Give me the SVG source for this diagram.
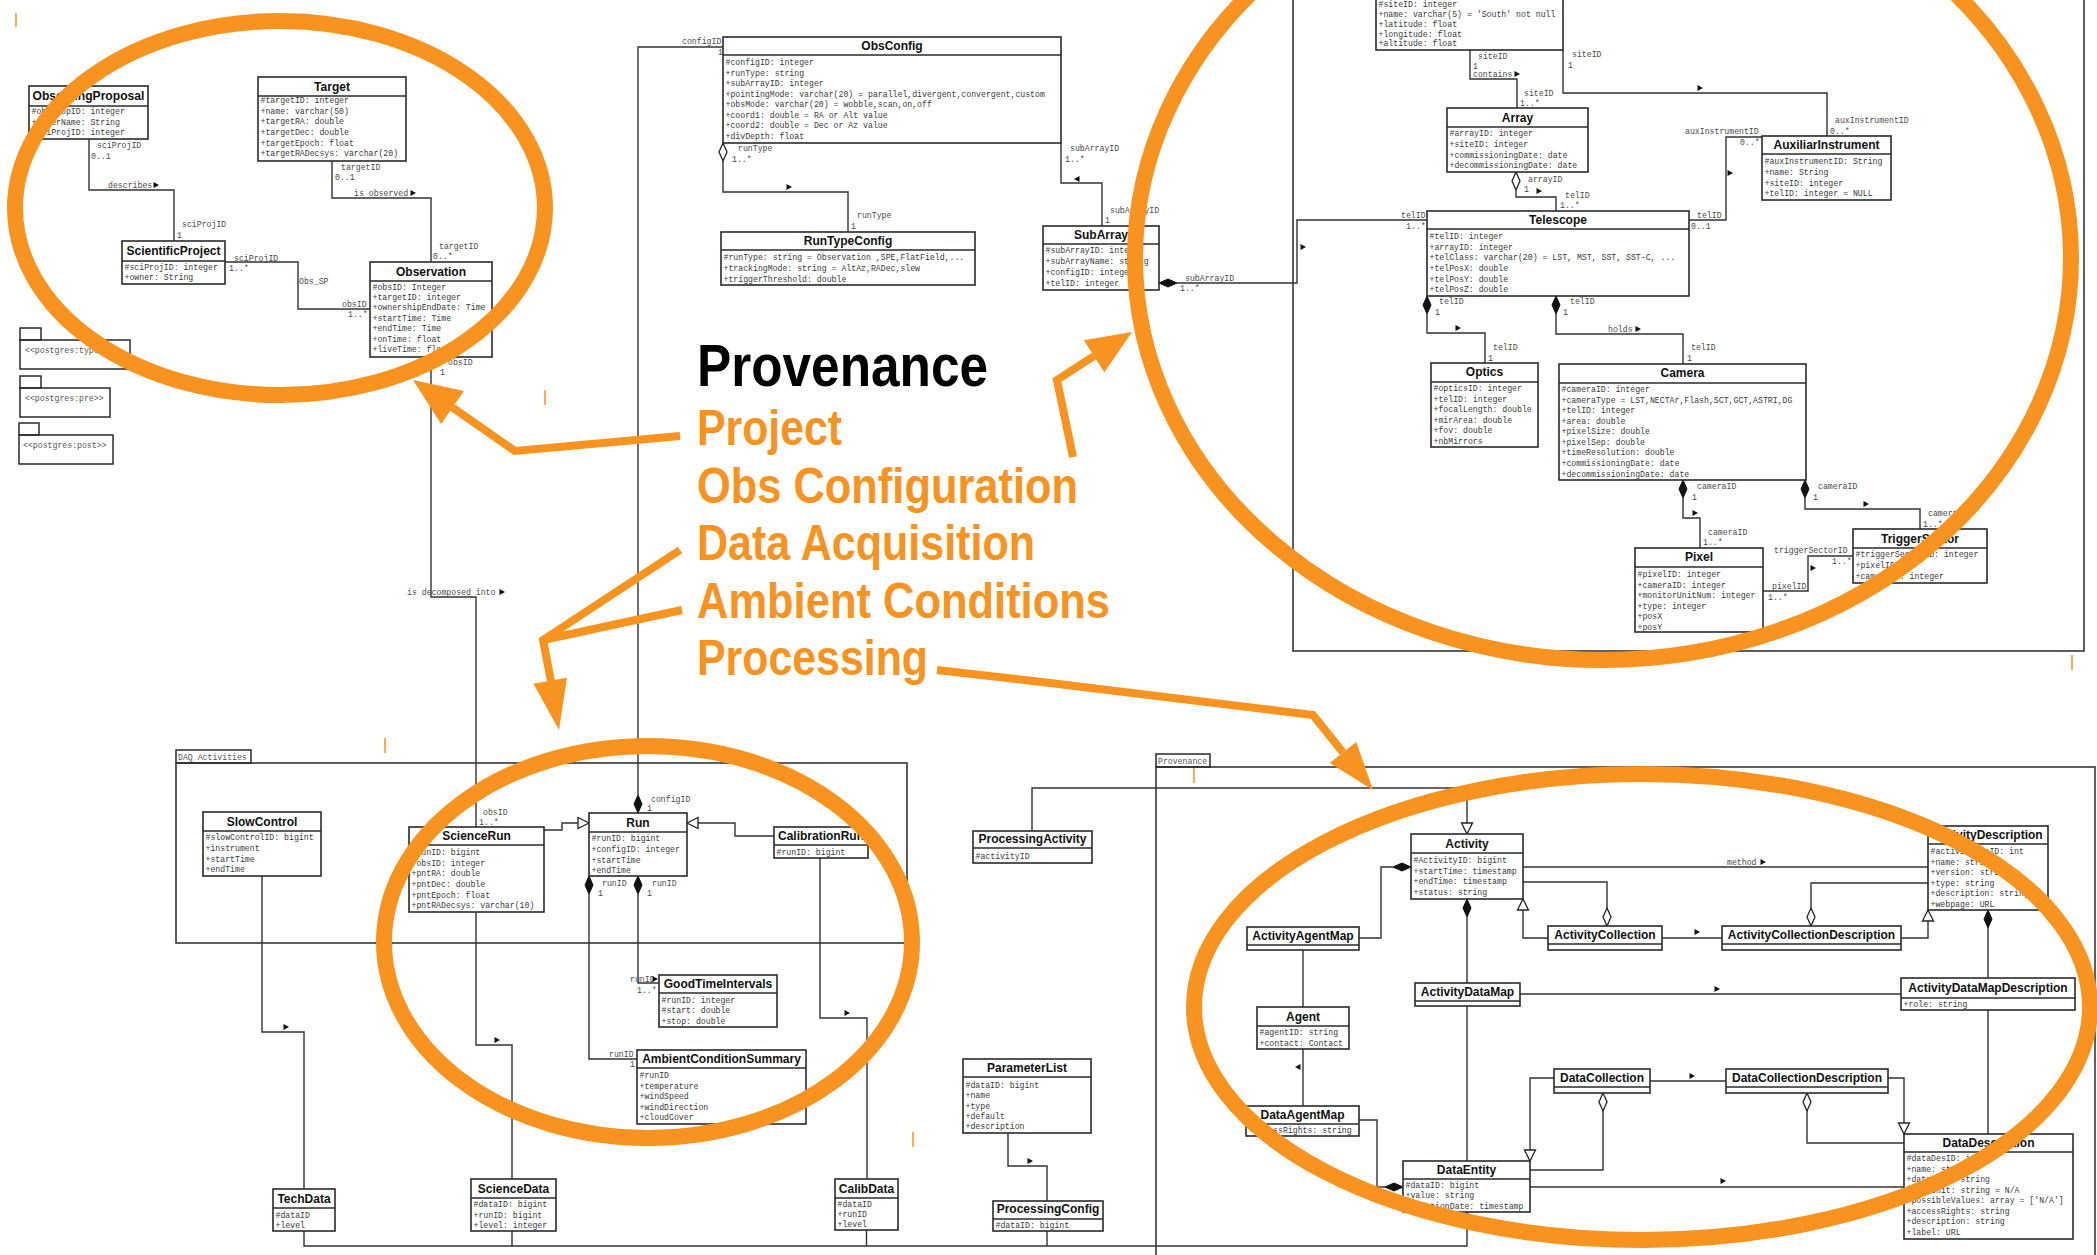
<svg xmlns="http://www.w3.org/2000/svg" width="2097" height="1255" viewBox="0 0 2097 1255">
<style>
.b{fill:#fff;stroke:#2a2a2a;stroke-width:1.6}
.h{stroke:#2a2a2a;stroke-width:1.4}
.f{fill:none;stroke:#2a2a2a;stroke-width:1.5}
.t{font-family:"Liberation Sans",Arial,sans-serif;font-weight:bold;font-size:12px;fill:#111;text-anchor:middle}
.a{font-family:"Liberation Mono","DejaVu Sans Mono",monospace;font-size:8.2px;fill:#3a3a3a}
.l{font-family:"Liberation Mono","DejaVu Sans Mono",monospace;font-size:8.2px;fill:#4a4a4a}
.p{font-family:"Liberation Mono","DejaVu Sans Mono",monospace;font-size:8.2px;fill:#555}
.c{fill:none;stroke:#333;stroke-width:1.4}
.fd{fill:#111;stroke:#111;stroke-width:1}
.hd{fill:#fff;stroke:#222;stroke-width:1.3}
.o{fill:none;stroke:#F7931E;stroke-width:16}
.oa{fill:none;stroke:#F7931E;stroke-width:8;stroke-linejoin:miter}
.oh{fill:#F7931E}
.ot{font-family:"Liberation Sans",Arial,sans-serif;font-weight:bold;font-size:50px;fill:#F7931E}
.tk{stroke:#F7931E;stroke-width:1.5}
</style>
<defs>
<path id="ar" d="M-2.5,-3 L3,0 L-2.5,3Z" fill="#111"/>
<path id="al" d="M2.5,-3 L-3,0 L2.5,3Z" fill="#111"/>
<path id="dv" d="M0,0 L4,9 L0,18 L-4,9Z"/>
<path id="dh" d="M0,0 L9,-4 L18,0 L9,4Z"/>
<path id="gu" d="M0,0 L5.5,11 L-5.5,11Z"/>
<path id="gd" d="M0,0 L5.5,-11 L-5.5,-11Z"/>
<path id="gl" d="M0,0 L11,-5.5 L11,5.5Z"/>
<path id="gr" d="M0,0 L-11,-5.5 L-11,5.5Z"/>
</defs>
<rect width="2097" height="1255" fill="#fff"/>

<g id="frames">
<rect class="f" x="1293" y="-10" width="791" height="661"/>
<rect class="f" x="176" y="750" width="75" height="13"/>
<text class="p" x="178" y="759.5">DAQ Activities</text>
<rect class="f" x="176" y="763" width="731" height="180"/>
<rect class="f" x="1156" y="754" width="54" height="13"/>
<text class="p" x="1158" y="763.5">Provenance</text>
<rect class="f" x="1156" y="767" width="939" height="500"/>
<g id="pkg_types"><rect class="f" x="20" y="328" width="21" height="12"/><rect class="f" x="20" y="340" width="110" height="29"/><text class="p" x="25" y="353">&lt;&lt;postgres:types&gt;&gt;</text></g>
<g id="pkg_pre"><rect class="f" x="20" y="376" width="21" height="12"/><rect class="f" x="20" y="388" width="90" height="29"/><text class="p" x="25" y="401">&lt;&lt;postgres:pre&gt;&gt;</text></g>
<g id="pkg_post"><rect class="f" x="19" y="423" width="20" height="12"/><rect class="f" x="19" y="435" width="94" height="29"/><text class="p" x="23" y="448">&lt;&lt;postgres:post&gt;&gt;</text></g>
</g>

<g id="connectors">
<path class="c" d="M89,139 V190 H174 V241"/>
<text class="l" x="97" y="148">sciProjID</text><text class="l" x="91" y="159">0..1</text><text class="l" x="108" y="188">describes</text><use href="#ar" x="156" y="185"/><text class="l" x="182" y="227">sciProjID</text><text class="l" x="177" y="238">1</text>

<path class="c" d="M332,161 V198 H431 V262"/>
<text class="l" x="341" y="170">targetID</text><text class="l" x="335" y="180">0..1</text><text class="l" x="354" y="196">is observed</text><use href="#ar" x="413" y="193"/><text class="l" x="439" y="249">targetID</text><text class="l" x="433" y="259">0..*</text>

<path class="c" d="M225,262 H298 V309 H370"/>
<text class="l" x="234" y="261">sciProjID</text><text class="l" x="229" y="271">1..*</text><text class="l" x="299" y="284">Obs_SP</text><text class="l" x="342" y="307">obsID</text><text class="l" x="348" y="317">1..*</text>

<path class="c" d="M431,357 V597 H476 V827"/>
<text class="l" x="448" y="365">obsID</text><text class="l" x="440" y="375">1</text><text class="l" x="407" y="595">is decomposed into</text><use href="#ar" x="502" y="592"/><text class="l" x="483" y="815">obsID</text><text class="l" x="479" y="825">1..*</text>

<path class="c" d="M723,47 H638 V795"/>
<use href="#dv" class="fd" x="638" y="795"/>
<text class="l" x="682" y="44">configID</text><text class="l" x="718" y="55">1</text><text class="l" x="651" y="802">configID</text><text class="l" x="647" y="811">1</text>

<use href="#dv" class="hd" x="723" y="143"/>
<path class="c" d="M723,161 V192 H848 V232"/>
<text class="l" x="738" y="151">runType</text><text class="l" x="732" y="162">1..*</text><use href="#ar" x="789" y="187"/><text class="l" x="857" y="218">runType</text><text class="l" x="851" y="229">1</text>

<path class="c" d="M1061,143 V183 H1102 V226"/>
<text class="l" x="1070" y="151">subArrayID</text><text class="l" x="1065" y="162">1..*</text><use href="#al" x="1077" y="179"/><text class="l" x="1110" y="213">subArrayID</text><text class="l" x="1105" y="223">1</text>

<use href="#dh" class="fd" x="1159" y="283"/>
<path class="c" d="M1177,283 H1297 V220 H1427"/>
<text class="l" x="1185" y="281">subArrayID</text><text class="l" x="1180" y="291">1..*</text><use href="#ar" x="1303" y="247"/><text class="l" x="1401" y="218">telID</text><text class="l" x="1406" y="229">1..*</text>

<path class="c" d="M1470,50 V79 H1517 V108"/>
<text class="l" x="1478" y="59">siteID</text><text class="l" x="1473" y="69">1</text><text class="l" x="1473" y="77">contains</text><use href="#ar" x="1517" y="74"/><text class="l" x="1524" y="96">siteID</text><text class="l" x="1520" y="106">1..*</text>

<path class="c" d="M1563,50 V93 H1827 V136"/>
<text class="l" x="1572" y="57">siteID</text><text class="l" x="1568" y="68">1</text><use href="#ar" x="1700" y="88"/><text class="l" x="1835" y="123">auxInstrumentID</text><text class="l" x="1830" y="134">0..*</text>

<use href="#dv" class="hd" x="1516" y="172"/>
<path class="c" d="M1516,190 V197 H1556 V211"/>
<text class="l" x="1528" y="182">arrayID</text><text class="l" x="1524" y="192">1</text><use href="#ar" x="1539" y="191"/><text class="l" x="1565" y="198">telID</text><text class="l" x="1560" y="208">1..*</text>

<path class="c" d="M1689,220 H1726 V137 H1762"/>
<text class="l" x="1697" y="218">telID</text><text class="l" x="1691" y="229">0..1</text><text class="l" x="1685" y="134">auxInstrumentID</text><text class="l" x="1740" y="145">0..*</text><use href="#ar" x="1730" y="173"/>

<use href="#dv" class="fd" x="1427" y="296"/>
<path class="c" d="M1427,314 V333 H1485 V363"/>
<text class="l" x="1439" y="304">telID</text><text class="l" x="1435" y="315">1</text><use href="#ar" x="1458" y="328"/><text class="l" x="1493" y="350">telID</text><text class="l" x="1488" y="361">1</text>

<use href="#dv" class="fd" x="1556" y="296"/>
<path class="c" d="M1556,314 V334 H1683 V364"/>
<text class="l" x="1570" y="304">telID</text><text class="l" x="1563" y="315">1</text><text class="l" x="1608" y="332">holds</text><use href="#ar" x="1638" y="329"/><text class="l" x="1691" y="350">telID</text><text class="l" x="1687" y="361">1</text>

<use href="#dv" class="fd" x="1683" y="480"/>
<path class="c" d="M1683,498 V518 H1700 V548"/>
<text class="l" x="1697" y="489">cameraID</text><text class="l" x="1692" y="500">1</text><use href="#ar" x="1695" y="513"/><text class="l" x="1708" y="535">cameraID</text><text class="l" x="1703" y="545">1..*</text>

<use href="#dv" class="fd" x="1805" y="480"/>
<path class="c" d="M1805,498 V509 H1920 V529"/>
<text class="l" x="1818" y="489">cameraID</text><text class="l" x="1813" y="500">1</text><use href="#ar" x="1866" y="504"/><text class="l" x="1928" y="516">cameraID</text><text class="l" x="1923" y="527">1..*</text>

<path class="c" d="M1763,591 H1808 V556 H1853"/>
<text class="l" x="1772" y="589">pixelID</text><text class="l" x="1768" y="600">1..*</text><use href="#ar" x="1813" y="568"/><text class="l" x="1774" y="553">triggerSectorID</text><text class="l" x="1832" y="564">1..*</text>

<path class="c" d="M262,876 V1032 H304 V1189"/><use href="#ar" x="286" y="1027"/>
<path class="c" d="M476,912 V1045 H512 V1179"/><use href="#ar" x="497" y="1040"/>
<path class="c" d="M544,830 H562 V823 H578"/><use href="#gr" class="hd" x="589" y="823"/>
<path class="c" d="M774,836 H735 V823 H698"/><use href="#gl" class="hd" x="687" y="823"/>
<path class="c" d="M820,858 V1018 H867 V1179"/><use href="#ar" x="847" y="1013"/>

<use href="#dv" class="fd" x="638" y="876"/>
<path class="c" d="M638,894 V983 H659"/>
<text class="l" x="652" y="886">runID</text><text class="l" x="647" y="896">1</text><text class="l" x="630" y="982">runID</text><use href="#ar" x="655" y="979"/><text class="l" x="637" y="993">1..*</text>

<use href="#dv" class="fd" x="589" y="876"/>
<path class="c" d="M589,894 V1059 H637"/>
<text class="l" x="602" y="886">runID</text><text class="l" x="598" y="896">1</text><text class="l" x="609" y="1057">runID</text><text class="l" x="630" y="1067">1</text>

<path class="c" d="M1032,831 V788 H1467 V823"/><use href="#gd" class="hd" x="1467" y="834"/>
<path class="c" d="M1008,1133 V1166 H1047 V1201"/><use href="#ar" x="1030" y="1161"/>
<path class="c" d="M304,1231 V1246 H1467 V1223 M512,1231 V1246 M866.5,1230 V1246 M1047,1231 V1246"/>
<use href="#gu" class="hd" x="1467" y="1212"/>

<path class="c" d="M1359,938 H1381 V867 H1393"/><use href="#dh" class="fd" x="1393" y="867"/>
<path class="c" d="M1303,950 V1007"/>
<path class="c" d="M1303,1049 V1106"/><use href="#al" x="1298" y="1067"/>
<path class="c" d="M1359,1120 H1377 V1187 H1385"/><use href="#dh" class="fd" x="1385" y="1187"/>
<use href="#dv" class="fd" x="1467" y="899"/>
<path class="c" d="M1467,917 V983"/>
<path class="c" d="M1467,1006 V1161"/>
<path class="c" d="M1520,994 H1901"/><use href="#ar" x="1717" y="989"/>
<path class="c" d="M1523,867 H1928"/><text class="l" x="1727" y="865">method</text><use href="#ar" x="1763" y="862"/>
<path class="c" d="M1523,882 H1607 V908"/><use href="#dv" class="hd" x="1607" y="908"/>
<use href="#gu" class="hd" x="1523" y="899"/>
<path class="c" d="M1523,910 V938 H1548"/>
<path class="c" d="M1662,938 H1722"/><use href="#ar" x="1697" y="932"/>
<path class="c" d="M1901,938 H1928 V921"/><use href="#gu" class="hd" x="1928" y="910"/>
<path class="c" d="M1928,883 H1811 V908"/><use href="#dv" class="hd" x="1811" y="908"/>
<use href="#dv" class="fd" x="1988" y="910"/>
<path class="c" d="M1988,928 V978"/>
<path class="c" d="M1988,1010 V1134"/>
<path class="c" d="M1554,1078 H1530 V1150"/><use href="#gd" class="hd" x="1530" y="1161"/>
<path class="c" d="M1650,1081 H1726"/><use href="#ar" x="1692" y="1076"/>
<path class="c" d="M1888,1078 H1904 V1123"/><use href="#gd" class="hd" x="1904" y="1134"/>
<use href="#dv" class="hd" x="1603" y="1093"/>
<path class="c" d="M1603,1111 V1170 H1530"/>
<use href="#dv" class="hd" x="1807" y="1093"/>
<path class="c" d="M1807,1111 V1143 H1904"/>
<path class="c" d="M1530,1187 H1904"/><use href="#ar" x="1723" y="1181"/>
</g>

<g id="ObservingProposal"><rect class="b" x="29" y="86" width="119" height="53"/><line class="h" x1="29" y1="106" x2="148" y2="106"/><text class="t" x="88.5" y="100.3" textLength="112" lengthAdjust="spacingAndGlyphs">ObservingProposal</text><text class="a" x="31.5" y="114">#obsPropID: integer</text><text class="a" x="31.5" y="124.5">+ownerName: String</text><text class="a" x="31.5" y="135">+sciProjID: integer</text></g>

<g id="Target"><rect class="b" x="258" y="77" width="148" height="84"/><line class="h" x1="258" y1="96" x2="406" y2="96"/><text class="t" x="332" y="90.8">Target</text><text class="a" x="260.5" y="103">#targetID: integer</text><text class="a" x="260.5" y="114">+name: varchar(50)</text><text class="a" x="260.5" y="124">+targetRA: double</text><text class="a" x="260.5" y="135">+targetDec: double</text><text class="a" x="260.5" y="146">+targetEpoch: float</text><text class="a" x="260.5" y="156">+targetRADecsys: varchar(20)</text></g>

<g id="ScientificProject"><rect class="b" x="122" y="241" width="103" height="43"/><line class="h" x1="122" y1="261" x2="225" y2="261"/><text class="t" x="173.5" y="255.3">ScientificProject</text><text class="a" x="124.5" y="270">#sciProjID: integer</text><text class="a" x="124.5" y="280">+owner: String</text></g>

<g id="Observation"><rect class="b" x="370" y="262" width="122" height="95"/><line class="h" x1="370" y1="281" x2="492" y2="281"/><text class="t" x="431" y="275.8">Observation</text><text class="a" x="372.5" y="290">#obsID: Integer</text><text class="a" x="372.5" y="300">+targetID: integer</text><text class="a" x="372.5" y="310">+ownershipEndDate: Time</text><text class="a" x="372.5" y="321">+startTime: Time</text><text class="a" x="372.5" y="331">+endTime: Time</text><text class="a" x="372.5" y="342">+onTime: float</text><text class="a" x="372.5" y="352">+liveTime: float</text></g>

<g id="ObsConfig"><rect class="b" x="723" y="37" width="338" height="106"/><line class="h" x1="723" y1="55" x2="1061" y2="55"/><text class="t" x="892" y="50.3">ObsConfig</text><text class="a" x="725.5" y="65">#configID: integer</text><text class="a" x="725.5" y="76">+runType: string</text><text class="a" x="725.5" y="86">+subArrayID: integer</text><text class="a" x="725.5" y="97">+pointingMode: varchar(20) = parallel,divergent,convergent,custom</text><text class="a" x="725.5" y="107">+obsMode: varchar(20) = wobble,scan,on,off</text><text class="a" x="725.5" y="118">+coord1: double = RA or Alt value</text><text class="a" x="725.5" y="128">+coord2: double = Dec or Az value</text><text class="a" x="725.5" y="139">+divDepth: float</text></g>

<g id="RunTypeConfig"><rect class="b" x="721" y="232" width="254" height="53"/><line class="h" x1="721" y1="250" x2="975" y2="250"/><text class="t" x="848" y="245.3">RunTypeConfig</text><text class="a" x="723.5" y="260">#runType: string = Observation ,SPE,FlatField,...</text><text class="a" x="723.5" y="271">+trackingMode: string = AltAz,RADec,slew</text><text class="a" x="723.5" y="282">+triggerThreshold: double</text></g>

<g id="SubArray"><rect class="b" x="1043" y="226" width="116" height="64"/><line class="h" x1="1043" y1="244" x2="1159" y2="244"/><text class="t" x="1101" y="239.3">SubArray</text><text class="a" x="1045.5" y="253">#subArrayID: integer</text><text class="a" x="1045.5" y="264">+subArrayName: string</text><text class="a" x="1045.5" y="275">+configID: integer</text><text class="a" x="1045.5" y="286">+telID: integer</text></g>

<g id="Site"><rect class="b" x="1376" y="-30" width="187" height="80"/><text class="a" x="1378.5" y="7">#siteID: integer</text><text class="a" x="1378.5" y="16.5">+name: varchar(5) = 'South' not null</text><text class="a" x="1378.5" y="26.5">+latitude: float</text><text class="a" x="1378.5" y="36.5">+longitude: float</text><text class="a" x="1378.5" y="46">+altitude: float</text></g>

<g id="Array"><rect class="b" x="1447" y="108" width="141" height="64"/><line class="h" x1="1447" y1="127" x2="1588" y2="127"/><text class="t" x="1517.5" y="121.8">Array</text><text class="a" x="1449.5" y="136">#arrayID: integer</text><text class="a" x="1449.5" y="147">+siteID: integer</text><text class="a" x="1449.5" y="158">+commissioningDate: date</text><text class="a" x="1449.5" y="168">+decommissioningDate: date</text></g>

<g id="AuxiliarInstrument"><rect class="b" x="1762" y="136" width="129" height="64"/><line class="h" x1="1762" y1="154" x2="1891" y2="154"/><text class="t" x="1826.5" y="149.3">AuxiliarInstrument</text><text class="a" x="1764.5" y="164">#auxInstrumentID: String</text><text class="a" x="1764.5" y="175">+name: String</text><text class="a" x="1764.5" y="186">+siteID: integer</text><text class="a" x="1764.5" y="196">+telID: integer = NULL</text></g>

<g id="Telescope"><rect class="b" x="1427" y="211" width="262" height="85"/><line class="h" x1="1427" y1="229" x2="1689" y2="229"/><text class="t" x="1558" y="224.3">Telescope</text><text class="a" x="1429.5" y="239">#telID: integer</text><text class="a" x="1429.5" y="250">+arrayID: integer</text><text class="a" x="1429.5" y="260">+telClass: varchar(20) = LST, MST, SST, SST-C, ...</text><text class="a" x="1429.5" y="271">+telPosX: double</text><text class="a" x="1429.5" y="282">+telPosY: double</text><text class="a" x="1429.5" y="292">+telPosZ: double</text></g>

<g id="Optics"><rect class="b" x="1431" y="363" width="107" height="84"/><line class="h" x1="1431" y1="382" x2="1538" y2="382"/><text class="t" x="1484.5" y="376.3">Optics</text><text class="a" x="1433.5" y="391">#opticsID: integer</text><text class="a" x="1433.5" y="402">+telID: integer</text><text class="a" x="1433.5" y="412">+focalLength: double</text><text class="a" x="1433.5" y="423">+mirArea: double</text><text class="a" x="1433.5" y="433">+fov: double</text><text class="a" x="1433.5" y="444">+nbMirrors</text></g>

<g id="Camera"><rect class="b" x="1559" y="364" width="247" height="116"/><line class="h" x1="1559" y1="383" x2="1806" y2="383"/><text class="t" x="1682.5" y="377.3">Camera</text><text class="a" x="1561.5" y="392">#cameraID: integer</text><text class="a" x="1561.5" y="403">+cameraType = LST,NECTAr,Flash,SCT,GCT,ASTRI,DG</text><text class="a" x="1561.5" y="413">+telID: integer</text><text class="a" x="1561.5" y="424">+area: double</text><text class="a" x="1561.5" y="434">+pixelSize: double</text><text class="a" x="1561.5" y="445">+pixelSep: double</text><text class="a" x="1561.5" y="455">+timeResolution: double</text><text class="a" x="1561.5" y="466">+commissioningDate: date</text><text class="a" x="1561.5" y="477">+decommissioningDate: date</text></g>

<g id="Pixel"><rect class="b" x="1635" y="548" width="128" height="84"/><line class="h" x1="1635" y1="567" x2="1763" y2="567"/><text class="t" x="1699" y="561.3">Pixel</text><text class="a" x="1637.5" y="577">#pixelID: integer</text><text class="a" x="1637.5" y="587.5">+cameraID: integer</text><text class="a" x="1637.5" y="598">+monitorUnitNum: integer</text><text class="a" x="1637.5" y="608.5">+type: integer</text><text class="a" x="1637.5" y="619">+posX</text><text class="a" x="1637.5" y="629.5">+posY</text></g>

<g id="TriggerSector"><rect class="b" x="1853" y="529" width="134" height="54"/><line class="h" x1="1853" y1="548" x2="1987" y2="548"/><text class="t" x="1920" y="542.8">TriggerSector</text><text class="a" x="1855.5" y="557">#triggerSectorID: integer</text><text class="a" x="1855.5" y="568">+pixelID</text><text class="a" x="1855.5" y="579">+cameraID: integer</text></g>

<g id="SlowControl"><rect class="b" x="203" y="812" width="118" height="64"/><line class="h" x1="203" y1="831" x2="321" y2="831"/><text class="t" x="262" y="825.8">SlowControl</text><text class="a" x="205.5" y="840">#slowControlID: bigint</text><text class="a" x="205.5" y="851">+instrument</text><text class="a" x="205.5" y="862">+startTime</text><text class="a" x="205.5" y="872">+endTime</text></g>

<g id="ScienceRun"><rect class="b" x="409" y="827" width="135" height="85"/><line class="h" x1="409" y1="845" x2="544" y2="845"/><text class="t" x="476.5" y="840.3">ScienceRun</text><text class="a" x="411.5" y="855">#runID: bigint</text><text class="a" x="411.5" y="866">+obsID: integer</text><text class="a" x="411.5" y="876">+pntRA: double</text><text class="a" x="411.5" y="887">+pntDec: double</text><text class="a" x="411.5" y="898">+pntEpoch: float</text><text class="a" x="411.5" y="908">+pntRADecsys: varchar(10)</text></g>

<g id="Run"><rect class="b" x="589" y="813" width="98" height="63"/><line class="h" x1="589" y1="832" x2="687" y2="832"/><text class="t" x="638" y="826.8">Run</text><text class="a" x="591.5" y="841">#runID: bigint</text><text class="a" x="591.5" y="852">+configID: integer</text><text class="a" x="591.5" y="863">+startTime</text><text class="a" x="591.5" y="873">+endTime</text></g>

<g id="CalibrationRun"><rect class="b" x="774" y="827" width="94" height="31"/><line class="h" x1="774" y1="845" x2="868" y2="845"/><text class="t" x="821" y="840.3">CalibrationRun</text><text class="a" x="776.5" y="855">#runID: bigint</text></g>

<g id="TechData"><rect class="b" x="273" y="1189" width="62" height="42"/><line class="h" x1="273" y1="1208" x2="335" y2="1208"/><text class="t" x="304" y="1202.8">TechData</text><text class="a" x="275.5" y="1218">#dataID</text><text class="a" x="275.5" y="1228">+level</text></g>

<g id="ScienceData"><rect class="b" x="471" y="1179" width="85" height="52"/><line class="h" x1="471" y1="1198" x2="556" y2="1198"/><text class="t" x="513.5" y="1192.8">ScienceData</text><text class="a" x="473.5" y="1207">#dataID: bigint</text><text class="a" x="473.5" y="1218">+runID: bigint</text><text class="a" x="473.5" y="1228">+level: integer</text></g>

<g id="CalibData"><rect class="b" x="835" y="1179" width="63" height="51"/><line class="h" x1="835" y1="1198" x2="898" y2="1198"/><text class="t" x="866.5" y="1192.8">CalibData</text><text class="a" x="837.5" y="1207">#dataID</text><text class="a" x="837.5" y="1217">+runID</text><text class="a" x="837.5" y="1227">+level</text></g>

<g id="GoodTimeIntervals"><rect class="b" x="659" y="975" width="118" height="52"/><line class="h" x1="659" y1="993" x2="777" y2="993"/><text class="t" x="718" y="988.3">GoodTimeIntervals</text><text class="a" x="661.5" y="1003">#runID: integer</text><text class="a" x="661.5" y="1013">#start: double</text><text class="a" x="661.5" y="1024">+stop: double</text></g>

<g id="AmbientConditionSummary"><rect class="b" x="637" y="1050" width="169" height="74"/><line class="h" x1="637" y1="1068" x2="806" y2="1068"/><text class="t" x="721.5" y="1063.3">AmbientConditionSummary</text><text class="a" x="639.5" y="1078">#runID</text><text class="a" x="639.5" y="1089">+temperature</text><text class="a" x="639.5" y="1099">+windSpeed</text><text class="a" x="639.5" y="1110">+windDirection</text><text class="a" x="639.5" y="1120">+cloudCover</text></g>

<g id="ProcessingActivity"><rect class="b" x="973" y="831" width="119" height="32"/><line class="h" x1="973" y1="848" x2="1092" y2="848"/><text class="t" x="1032.5" y="843.3">ProcessingActivity</text><text class="a" x="975.5" y="859">#activityID</text></g>

<g id="ParameterList"><rect class="b" x="963" y="1059" width="128" height="74"/><line class="h" x1="963" y1="1077" x2="1091" y2="1077"/><text class="t" x="1027" y="1072.3">ParameterList</text><text class="a" x="965.5" y="1088">#dataID: bigint</text><text class="a" x="965.5" y="1098">+name</text><text class="a" x="965.5" y="1109">+type</text><text class="a" x="965.5" y="1119">+default</text><text class="a" x="965.5" y="1129">+description</text></g>

<g id="ProcessingConfig"><rect class="b" x="993" y="1201" width="110" height="30"/><line class="h" x1="993" y1="1219" x2="1103" y2="1219"/><text class="t" x="1048" y="1213.3">ProcessingConfig</text><text class="a" x="995.5" y="1228">#dataID: bigint</text></g>

<g id="Activity"><rect class="b" x="1411" y="834" width="112" height="65"/><line class="h" x1="1411" y1="853" x2="1523" y2="853"/><text class="t" x="1467" y="847.8">Activity</text><text class="a" x="1413.5" y="863">#ActivityID: bigint</text><text class="a" x="1413.5" y="874">+startTime: timestamp</text><text class="a" x="1413.5" y="884">+endTime: timestamp</text><text class="a" x="1413.5" y="895">+status: string</text></g>

<g id="ActivityAgentMap"><rect class="b" x="1247" y="927" width="112" height="23"/><line class="h" x1="1247" y1="945" x2="1359" y2="945"/><text class="t" x="1303" y="940.3">ActivityAgentMap</text></g>

<g id="Agent"><rect class="b" x="1257" y="1007" width="92" height="42"/><line class="h" x1="1257" y1="1026" x2="1349" y2="1026"/><text class="t" x="1303" y="1020.8">Agent</text><text class="a" x="1259.5" y="1035">#agentID: string</text><text class="a" x="1259.5" y="1046">+contact: Contact</text></g>

<g id="DataAgentMap"><rect class="b" x="1246" y="1106" width="113" height="30"/><line class="h" x1="1246" y1="1124" x2="1359" y2="1124"/><text class="t" x="1302.5" y="1119.3">DataAgentMap</text><text class="a" x="1248.5" y="1133">+accessRights: string</text></g>

<g id="DataEntity"><rect class="b" x="1403" y="1161" width="127" height="51"/><line class="h" x1="1403" y1="1179" x2="1530" y2="1179"/><text class="t" x="1466.5" y="1174.3">DataEntity</text><text class="a" x="1405.5" y="1188">#dataID: bigint</text><text class="a" x="1405.5" y="1198">+value: string</text><text class="a" x="1405.5" y="1209">+creationDate: timestamp</text></g>

<g id="ActivityDataMap"><rect class="b" x="1415" y="983" width="105" height="23"/><line class="h" x1="1415" y1="1001" x2="1520" y2="1001"/><text class="t" x="1467.5" y="996.3">ActivityDataMap</text></g>

<g id="ActivityDescription"><rect class="b" x="1928" y="826" width="120" height="84"/><line class="h" x1="1928" y1="844" x2="2048" y2="844"/><text class="t" x="1988" y="839.3">ActivityDescription</text><text class="a" x="1930.5" y="854">#activityDesID: int</text><text class="a" x="1930.5" y="865">+name: string</text><text class="a" x="1930.5" y="875">+version: string</text><text class="a" x="1930.5" y="886">+type: string</text><text class="a" x="1930.5" y="896">+description: string</text><text class="a" x="1930.5" y="907">+webpage: URL</text></g>

<g id="ActivityCollection"><rect class="b" x="1548" y="926" width="114" height="24"/><line class="h" x1="1548" y1="944" x2="1662" y2="944"/><text class="t" x="1605" y="939.3">ActivityCollection</text></g>

<g id="ActivityCollectionDescription"><rect class="b" x="1722" y="926" width="179" height="24"/><line class="h" x1="1722" y1="944" x2="1901" y2="944"/><text class="t" x="1811.5" y="939.3">ActivityCollectionDescription</text></g>

<g id="ActivityDataMapDescription"><rect class="b" x="1901" y="978" width="174" height="32"/><line class="h" x1="1901" y1="998" x2="2075" y2="998"/><text class="t" x="1988" y="991.8">ActivityDataMapDescription</text><text class="a" x="1903.5" y="1007">+role: string</text></g>

<g id="DataCollection"><rect class="b" x="1554" y="1069" width="96" height="24"/><line class="h" x1="1554" y1="1087" x2="1650" y2="1087"/><text class="t" x="1602" y="1082.3">DataCollection</text></g>

<g id="DataCollectionDescription"><rect class="b" x="1726" y="1069" width="162" height="24"/><line class="h" x1="1726" y1="1087" x2="1888" y2="1087"/><text class="t" x="1807" y="1082.3">DataCollectionDescription</text></g>

<g id="DataDescription"><rect class="b" x="1904" y="1134" width="169" height="105"/><line class="h" x1="1904" y1="1152" x2="2073" y2="1152"/><text class="t" x="1988.5" y="1147.3">DataDescription</text><text class="a" x="1906.5" y="1161">#dataDesID: int</text><text class="a" x="1906.5" y="1172">+name: string</text><text class="a" x="1906.5" y="1182">+dataType: string</text><text class="a" x="1906.5" y="1193">+dataUnit: string = N/A</text><text class="a" x="1906.5" y="1203">+possibleValues: array = ['N/A']</text><text class="a" x="1906.5" y="1214">+accessRights: string</text><text class="a" x="1906.5" y="1224">+description: string</text><text class="a" x="1906.5" y="1235">+label: URL</text></g>

<g id="annotations">
<line class="tk" x1="16" y1="13" x2="16" y2="27"/>
<line class="tk" x1="545" y1="390" x2="545" y2="405"/>
<line class="tk" x1="385" y1="738" x2="385" y2="753"/>
<line class="tk" x1="1194" y1="768" x2="1194" y2="783"/>
<line class="tk" x1="2072" y1="655" x2="2072" y2="670"/>
<line class="tk" x1="913" y1="1132" x2="913" y2="1147"/>
<ellipse class="o" cx="280" cy="208" rx="265" ry="187"/>
<ellipse class="o" cx="1603" cy="258" rx="468" ry="402"/>
<ellipse class="o" cx="648" cy="942" rx="264" ry="196"/>
<ellipse class="o" cx="1642" cy="1007" rx="448" ry="233"/>
<polyline class="oa" points="680,436 515,451 452.5,407.5"/>
<polygon class="oh" points="413,380 463.9,391.1 441.1,423.9"/>
<polyline class="oa" points="1073,457 1057,380 1094,356"/>
<polygon class="oh" points="1132,332 1104.3,372.3 1083.9,340.3"/>
<polyline class="oa" points="680,550 543,640 551,681"/>
<line class="oa" x1="682" y1="610" x2="543" y2="640"/>
<polygon class="oh" points="559,730 566.9,677.8 533.5,683.8"/>
<polyline class="oa" points="937,670 1050,683 1313,715 1343,752.5"/>
<polygon class="oh" points="1373,790 1356.3,741.9 1329.7,763.1"/>
<text x="697" y="386" font-family="'Liberation Sans',Arial,sans-serif" font-weight="bold" font-size="59" fill="#000" textLength="291" lengthAdjust="spacingAndGlyphs">Provenance</text>
<text class="ot" x="697" y="445" textLength="145" lengthAdjust="spacingAndGlyphs">Project</text>
<text class="ot" x="697" y="503" textLength="381" lengthAdjust="spacingAndGlyphs">Obs Configuration</text>
<text class="ot" x="697" y="560" textLength="338" lengthAdjust="spacingAndGlyphs">Data Acquisition</text>
<text class="ot" x="697" y="618" textLength="413" lengthAdjust="spacingAndGlyphs">Ambient Conditions</text>
<text class="ot" x="697" y="675" textLength="231" lengthAdjust="spacingAndGlyphs">Processing</text>
</g>
</svg>
